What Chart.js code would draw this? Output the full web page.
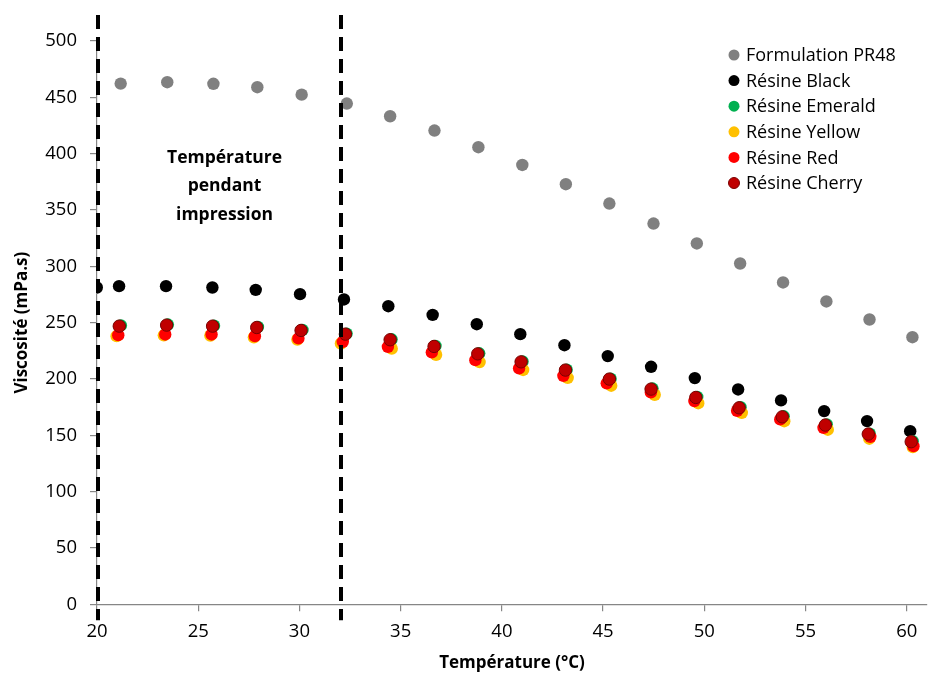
<!DOCTYPE html>
<html>
<head>
<meta charset="utf-8">
<script src="https://cdn.jsdelivr.net/npm/chart.js@4/dist/chart.umd.min.js"></script>
<style>
  html, body { margin: 0; padding: 0; background: #fff; }
  #wrap { width: 928px; height: 677px; position: relative; }
</style>
</head>
<body>
<div id="wrap"><canvas id="viscoChart"></canvas></div>
<script>
// Temperature (°C) / viscosity (mPa.s)
const tempPR48 = [21.17, 23.47, 25.75, 27.92, 30.11, 32.34, 34.48, 36.67, 38.84, 41.01, 43.16, 45.31, 47.49, 49.63, 51.77, 53.89, 56.03, 58.16, 60.28];
const viscPR48 = [462.2, 463.4, 462.0, 459.0, 452.4, 444.5, 433.2, 420.5, 405.7, 390.0, 372.9, 355.7, 338.0, 320.3, 302.5, 285.7, 268.8, 252.8, 237.1];

const tempBlack = [19.99, 21.09, 23.41, 25.70, 27.84, 30.03, 32.20, 34.39, 36.58, 38.76, 40.91, 43.09, 45.23, 47.37, 49.53, 51.67, 53.79, 55.92, 58.04, 60.17];
const viscBlack = [281.2, 282.4, 282.4, 281.2, 279.1, 275.3, 270.6, 264.6, 256.9, 248.6, 239.8, 230.0, 220.3, 210.8, 200.8, 190.7, 181.0, 171.5, 162.6, 153.7];

const tempEmerald = [21.18, 23.50, 25.78, 27.95, 30.15, 32.33, 34.55, 36.72, 38.88, 41.02, 43.20, 45.37, 47.44, 49.65, 51.79, 53.92, 56.05, 58.17, 60.29];
const viscEmerald = [247.5, 248.3, 247.3, 246.2, 243.5, 240.3, 235.2, 229.3, 222.8, 215.6, 208.3, 200.3, 191.5, 184.0, 174.9, 166.9, 159.6, 151.5, 144.8];

const tempYellow = [20.97, 23.30, 25.60, 27.75, 29.90, 32.05, 34.56, 36.75, 38.90, 41.05, 43.25, 45.40, 47.55, 49.70, 51.85, 53.95, 56.10, 58.15, 60.30];
const viscYellow = [238.0, 238.8, 238.5, 237.0, 235.0, 231.5, 226.9, 221.5, 215.0, 208.0, 201.0, 194.0, 186.0, 178.5, 170.0, 162.5, 155.0, 147.0, 139.5];

const tempRed = [21.05, 23.37, 25.66, 27.80, 29.95, 32.14, 34.37, 36.54, 38.69, 40.85, 43.04, 45.18, 47.36, 49.51, 51.62, 53.75, 55.89, 58.20, 60.33];
const viscRed = [238.9, 239.5, 239.5, 238.0, 236.0, 233.0, 228.5, 223.6, 216.7, 209.4, 202.8, 196.1, 188.1, 180.4, 171.8, 164.1, 156.7, 148.7, 140.4];

const tempCherry = [21.10, 23.44, 25.71, 27.89, 30.08, 32.27, 34.48, 36.65, 38.81, 40.95, 43.14, 45.31, 47.37, 49.58, 51.72, 53.85, 55.98, 58.10, 60.22];
const viscCherry = [246.9, 247.8, 246.9, 245.7, 243.1, 239.8, 234.8, 228.9, 222.3, 215.2, 207.9, 199.9, 191.0, 183.6, 174.4, 166.4, 159.1, 151.1, 144.3];

const seriesLabels = ['Formulation PR48', 'Résine Black', 'Résine Emerald', 'Résine Yellow', 'Résine Red', 'Résine Cherry'];
const printRange = [20, 32];          // dashed limits of the printing temperature
const noteLines = ['Température', 'pendant', 'impression'];
const notePos = [26.3, 371];           // data coords of the note centre
const xTicks = { min: 20, max: 61, step: 5 };
const yTicks = { min: 0, max: 500, step: 50 };

const FONT = "'Open Sans', sans-serif";
const AXIS_GREY = '#868686';

const toPoints = (xs, ys) => xs.map((x, i) => ({ x, y: ys[i] }));

function scatterSet(label, xs, ys, color, border, order) {
    return {
        label,
        data: toPoints(xs, ys),
        backgroundColor: color,
        borderColor: border || color,
        borderWidth: border ? 1 : 0,
        pointRadius: 6.2,
        order
    };
}

// dashed lines + note + legend, drawn on top of the points
const overlay = {
    id: 'overlay',
    afterDatasetsDraw(chart) {
        const { ctx, scales: { x, y }, chartArea } = chart;
        ctx.save();

        // dashed printing-temperature limits
        ctx.strokeStyle = '#000';
        ctx.lineWidth = 4;
        ctx.setLineDash([14, 8]);
        const yTop = y.getPixelForValue(yTicks.max) - 26;
        const yBot = y.getPixelForValue(yTicks.min) + 16;
        printRange.forEach(t => {
            const px = Math.round(x.getPixelForValue(t)) + 1;
            ctx.beginPath();
            ctx.moveTo(px, yTop);
            ctx.lineTo(px, yBot);
            ctx.stroke();
        });
        ctx.setLineDash([]);

        // note
        ctx.fillStyle = '#000';
        ctx.font = "bold 17.5px " + FONT;
        ctx.textAlign = 'center';
        ctx.textBaseline = 'middle';
        const cx = x.getPixelForValue(notePos[0]);
        const cy = y.getPixelForValue(notePos[1]);
        noteLines.forEach((line, i) => {
            ctx.fillText(line, cx, cy + (i - 1) * 28.5);
        });

        // legend
        ctx.font = "18px " + FONT;
        ctx.textAlign = 'left';
        const lx = chartArea.right - 193;
        let ly = chartArea.top + 14;
        chart.data.datasets.forEach(ds => {
            ctx.beginPath();
            ctx.arc(lx, ly, 5.5, 0, Math.PI * 2);
            ctx.fillStyle = ds.backgroundColor;
            ctx.fill();
            if (ds.borderWidth) {
                ctx.lineWidth = 1;
                ctx.strokeStyle = ds.borderColor;
                ctx.stroke();
            }
            ctx.fillStyle = '#000';
            ctx.fillText(ds.label, lx + 12, ly + 1);
            ly += 25.6;
        });
        ctx.restore();
    }
};

const ctx = document.getElementById('viscoChart').getContext('2d');
new Chart(ctx, {
    type: 'scatter',
    data: {
        datasets: [
            scatterSet(seriesLabels[0], tempPR48, viscPR48, '#808080', null, 5),
            scatterSet(seriesLabels[1], tempBlack, viscBlack, '#000000', null, 4),
            scatterSet(seriesLabels[2], tempEmerald, viscEmerald, '#00B050', null, 3),
            scatterSet(seriesLabels[3], tempYellow, viscYellow, '#FFC000', null, 2),
            scatterSet(seriesLabels[4], tempRed, viscRed, '#FF0000', null, 1),
            scatterSet(seriesLabels[5], tempCherry, viscCherry, '#C00000', '#7A0000', 0)
        ]
    },
    options: {
        responsive: true,
        maintainAspectRatio: false,
        animation: false,
        layout: { autoPadding: false, padding: { top: 41, right: 1, left: 0, bottom: 0 } },
        plugins: {
            legend: { display: false },
            tooltip: { enabled: false }
        },
        scales: {
            x: {
                type: 'linear',
                min: xTicks.min,
                max: xTicks.max,
                afterFit: s => { s.height = 72.7; s.paddingLeft = 0; s.paddingRight = 0; },
                border: { display: true, color: AXIS_GREY, width: 1.2 },
                grid: { drawOnChartArea: false, drawTicks: true, tickLength: 7, color: AXIS_GREY, lineWidth: 1.2 },
                ticks: {
                    stepSize: xTicks.step,
                    includeBounds: false,
                    padding: 9,
                    color: '#000',
                    font: { family: FONT, size: 18.5 }
                },
                title: {
                    display: true,
                    text: 'Température (°C)',
                    color: '#000',
                    padding: { top: 0, bottom: 4 },
                    font: { family: FONT, size: 17, weight: 'bold' }
                }
            },
            y: {
                min: yTicks.min,
                max: yTicks.max,
                afterFit: s => { s.width = 97; },
                border: { display: true, color: AXIS_GREY, width: 1.2 },
                grid: { drawOnChartArea: false, drawTicks: true, tickLength: 7, color: AXIS_GREY, lineWidth: 1.2 },
                ticks: {
                    stepSize: yTicks.step,
                    padding: 13,
                    color: '#000',
                    font: { family: FONT, size: 18.5 }
                },
                title: {
                    display: true,
                    text: 'Viscosité (mPa.s)',
                    color: '#000',
                    padding: { top: 12, bottom: 0 },
                    font: { family: FONT, size: 17, weight: 'bold' }
                }
            }
        }
    },
    plugins: [overlay]
});
</script>
</body>
</html>
